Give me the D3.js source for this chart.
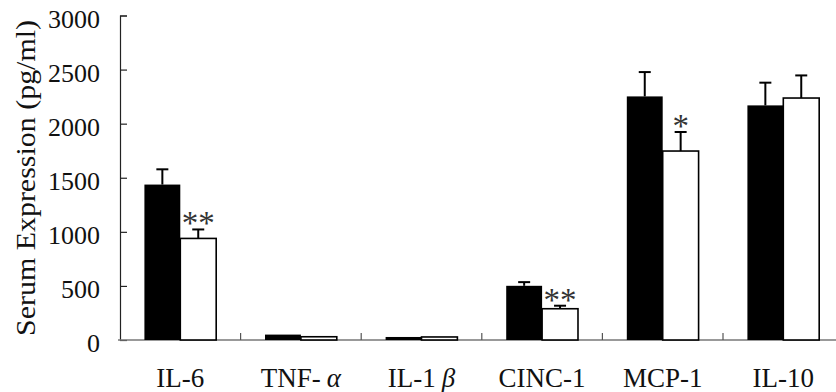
<html>
<head>
<script src="https://d3js.org/d3.v7.min.js"></script>
<style>
  body { margin: 0; background: #fff; }
  svg, svg text { font-family: "Liberation Serif", "Times New Roman", serif !important; }
</style>
</head>
<body>
<div id="chart"></div>
<script>
var width = 836, height = 392;
var margin = { top: 15.5, left: 120, bottom: 52 };
var serif = "Liberation Serif, Times New Roman, serif";

// data (pg/ml)
var categories = ["IL-6", "TNF-α", "IL-1β", "CINC-1", "MCP-1", "IL-10"];
var blackMean = [1437, 50, 28, 501, 2252, 2169];
var blackErr  = [141, 0, 0, 34, 225, 210];
var whiteMean = [939, 30, 28, 289, 1747, 2237];
var whiteErr  = [83, 0, 0, 28, 176, 209];
var stars     = ["**", "", "", "**", "*", ""];
var yTicks = [0, 500, 1000, 1500, 2000, 2500, 3000];

var series = ["black", "white"];
var rows = [];
categories.forEach(function (c, i) {
    rows.push({ cat: c, s: "black", val: blackMean[i], err: blackErr[i] });
    rows.push({ cat: c, s: "white", val: whiteMean[i], err: whiteErr[i] });
});

var svg = d3.select("#chart").append("svg")
    .attr("width", width).attr("height", height)
    .attr("font-family", serif);

var x0 = d3.scaleBand().domain(categories)
    .range([margin.left, margin.left + 6 * 120.6]);
var x1 = d3.scaleBand().domain(series)
    .range([0, x0.bandwidth()])
    .paddingInner(0).paddingOuter(0.68);
var y = d3.scaleLinear().domain([0, 3000])
    .range([height - margin.bottom, margin.top]);

// y axis, ticks pointing inward
var yAxis = d3.axisLeft(y).tickValues(yTicks)
    .tickFormat(d3.format("d"))
    .tickSize(-7).tickSizeOuter(-7).tickPadding(20);
var gy = svg.append("g")
    .attr("transform", `translate(${margin.left},0)`)
    .call(yAxis)
    .attr("font-family", serif)
    .attr("font-size", 26);
gy.selectAll("path, line").attr("stroke", "#222").attr("stroke-width", 1.2);
gy.selectAll("text")
    .attr("fill", "#111")
    .attr("dy", "0.45em");

// x axis line with small ticks between groups
var y0 = y(0);
svg.append("line")
    .attr("x1", margin.left - 2).attr("x2", width)
    .attr("y1", y0).attr("y2", y0)
    .attr("stroke", "#777").attr("stroke-width", 1.5);
svg.append("g").selectAll("line")
    .data(categories.slice(1))
    .enter().append("line")
    .attr("x1", d => x0(d)).attr("x2", d => x0(d))
    .attr("y1", y0).attr("y2", y0 - 7)
    .attr("stroke", "#555").attr("stroke-width", 1.2);

// bars
svg.append("g").selectAll("rect")
    .data(rows).enter().append("rect")
    .attr("x", d => x0(d.cat) + x1(d.s))
    .attr("y", d => y(d.val))
    .attr("width", x1.bandwidth())
    .attr("height", d => y(0) - y(d.val))
    .attr("fill", d => d.s == "black" ? "#000" : "#fff")
    .attr("stroke", "#000")
    .attr("stroke-width", d => d.s == "black" ? 0 : 1.6);

// error bars (upper only)
var eb = svg.append("g").selectAll("g")
    .data(rows.filter(d => d.err > 0)).enter().append("g")
    .attr("stroke", "#000").attr("stroke-width", 2);
eb.append("line")
    .attr("x1", d => x0(d.cat) + x1(d.s) + x1.bandwidth() / 2)
    .attr("x2", d => x0(d.cat) + x1(d.s) + x1.bandwidth() / 2)
    .attr("y1", d => y(d.val))
    .attr("y2", d => y(d.val + d.err));
eb.append("line")
    .attr("x1", d => x0(d.cat) + x1(d.s) + x1.bandwidth() / 2 - 6)
    .attr("x2", d => x0(d.cat) + x1(d.s) + x1.bandwidth() / 2 + 6)
    .attr("y1", d => y(d.val + d.err))
    .attr("y2", d => y(d.val + d.err));

// significance stars above the white bars
svg.append("g").selectAll("text")
    .data(categories.map((c, i) => ({ cat: c, star: stars[i], top: whiteMean[i] + whiteErr[i] }))
        .filter(d => d.star))
    .enter().append("text")
    .attr("x", d => x0(d.cat) + x1("white") + x1.bandwidth() / 2)
    .attr("y", d => y(d.top) + 5)
    .attr("text-anchor", "middle")
    .attr("font-size", 33)
    .attr("fill", "#333")
    .text(d => d.star);

// category labels
var labels = svg.append("g").selectAll("text")
    .data(categories).enter().append("text")
    .attr("x", d => x0(d) + x0.bandwidth() / 2)
    .attr("y", 387)
    .attr("text-anchor", "middle")
    .attr("font-size", 27)
    .attr("fill", "#111");
labels.each(function (d) {
    var t = d3.select(this);
    var m = d.match(/^(.*?)([αβ])$/);
    if (m) {
        t.append("tspan").text(m[1]);
        t.append("tspan").attr("dx", 6).attr("font-style", "italic").text(m[2]);
    } else {
        t.text(d);
    }
});

// y axis title
svg.append("text")
    .attr("transform", "translate(35,178) rotate(-90)")
    .attr("text-anchor", "middle")
    .attr("font-size", 27)
    .attr("fill", "#111")
    .attr("textLength", 316)
    .attr("lengthAdjust", "spacingAndGlyphs")
    .text("Serum Expression (pg/ml)");
</script>
</body>
</html>
